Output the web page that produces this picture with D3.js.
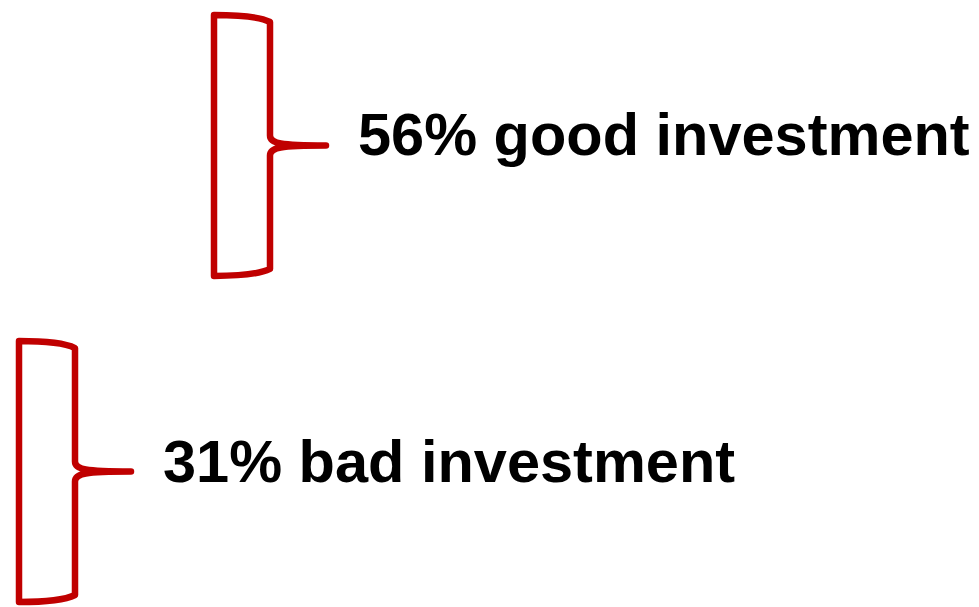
<!DOCTYPE html>
<html>
<head>
<meta charset="utf-8">
<script src="https://cdn.jsdelivr.net/npm/d3@7"></script>
<style>
    body { margin: 0; background: #fff; }
    .label { font-family: Arial, "Liberation Sans", sans-serif; font-weight: bold; font-size: 59.5px; fill: #000; }
</style>
</head>
<body>
<script>

// data
var categories = ['good investment', 'bad investment'];
var percents = [56, 31];

var width = 979;
var height = 607;

var canvas = d3.select('body')
    .append('svg')
    .attr('class', 'canvas')
    .attr('width', width)
    .attr('height', height)

// rows top -> bottom
var yScale = d3.scaleBand()
    .domain(categories)
    .range([15, 602])
    .paddingInner(0.2)

// left edge of each bracket (lower share sits further left)
var xScale = d3.scaleLinear()
    .domain([31, 56])
    .range([19, 214])

var bw = 56;   // bracket depth
var tip = 56;  // tip length

function bracket(x0, y0, y1) {
    var ym = (y0 + y1) / 2;
    var xr = x0 + bw;
    var p = d3.path();
    p.moveTo(x0, y0);
    p.quadraticCurveTo(x0 + bw * 0.75, y0, xr, y0 + 7);
    p.lineTo(xr, ym - 10);
    p.bezierCurveTo(xr, ym - 2, xr + 10, ym, xr + tip, ym);
    p.bezierCurveTo(xr + 10, ym, xr, ym + 2, xr, ym + 10);
    p.lineTo(xr, y1 - 7);
    p.quadraticCurveTo(x0 + bw * 0.75, y1, x0, y1);
    p.closePath();
    return p.toString();
}

var rows = canvas.selectAll('g.row')
    .data(categories)
    .enter()
    .append('g')
    .attr('class', 'row')

rows.append('path')
    .attr('d', function (d, i) {
        var y0 = yScale(d);
        return bracket(xScale(percents[i]), y0, y0 + yScale.bandwidth());
    })
    .attr('fill', 'none')
    .attr('stroke', '#c00000')
    .attr('stroke-width', 6.5)
    .attr('stroke-linejoin', 'round')
    .attr('stroke-linecap', 'round')

rows.append('text')
    .attr('class', 'label')
    .attr('x', function (d, i) {
        return xScale(percents[i]) + bw + tip + 32;
    })
    .attr('y', function (d) {
        return yScale(d) + yScale.bandwidth() / 2 + 10;
    })
    .text(function (d, i) {
        return percents[i] + '% ' + d;
    })

</script>
</body>
</html>
